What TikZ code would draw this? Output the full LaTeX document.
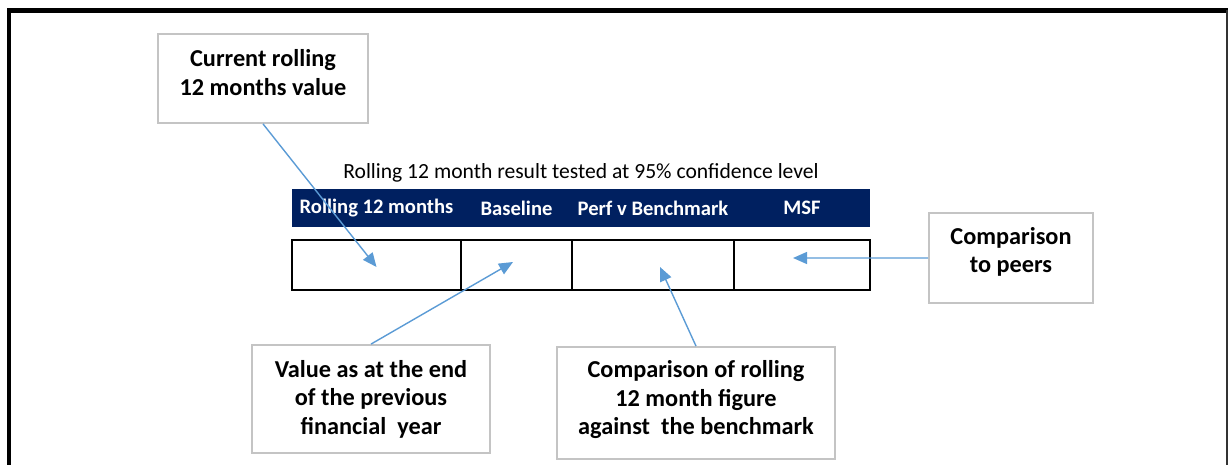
\documentclass[tikz,border=0pt]{standalone}
\usepackage{fontspec}
\setmainfont{Carlito}
\usetikzlibrary{arrows.meta}

\definecolor{navy}{RGB}{0,32,96}
\definecolor{arrowblue}{RGB}{91,155,213}
\definecolor{boxgrey}{RGB}{196,196,196}

\tikzset{
  callout/.style={draw=boxgrey, line width=1.8pt, fill=white, inner sep=0pt},
  calltext/.style={draw=none, align=center, inner sep=0pt,
    font=\fontsize{24.3}{28.5}\selectfont\bfseries},
  head/.style={draw=none, text=white, font=\fontsize{20.6}{24}\selectfont\bfseries},
  caption/.style={draw=none, font=\fontsize{21.6}{25}\selectfont},
  cellline/.style={line width=1.6pt},
  arr/.style={arrowblue, line width=1.4pt, -{Triangle[length=14pt,width=12pt]}}
}

\begin{document}
\begin{tikzpicture}[x=10pt, y=-10pt]
\useasboundingbox (0,0) rectangle (122.9,46.5);

% frame
\draw[line width=4.6pt] (0.9,46.5) -- (0.9,1.05) -- (122.8,1.05);
\draw[line width=1.5pt, black!80] (122.7,1.05) -- (122.7,46.5);

% table
\node[caption] (caption) at (58.1,17.3) {Rolling 12 month result tested at 95\% confidence level};
\fill[navy] (29.2,18.9) rectangle (87,22.7);

\foreach \l/\r/\n/\t in {29.2/46.1/rolling/Rolling 12 months, 46.1/57.2/baseline/Baseline,
                         57.2/73.4/perf/Perf v Benchmark, 73.4/87/msf/MSF} {
  \draw[cellline] (\l,24) rectangle (\r,29);
  \coordinate (\n) at ({(\l+\r)/2},26.5);
  \node[head] (h\n) at ({(\l+\r)/2},20.8) {\t};
}

% callouts
\node[callout, minimum width=210pt, minimum height=89pt,
  label={[calltext, yshift=6pt]center:{Current rolling\\12 months value}}] (current) at (26.3,7.85) {};
\node[callout, minimum width=164pt, minimum height=90pt,
  label={[calltext, yshift=6pt]center:{Comparison\\to peers}}] (peers) at (101.1,25.8) {};
\node[callout, minimum width=238pt, minimum height=108pt,
  label={[calltext]center:{Value as at the end\\of the previous\\financial\ \ year}}] (value) at (37.1,39.9) {};
\node[callout, minimum width=278pt, minimum height=112pt,
  label={[calltext, yshift=3pt]center:{Comparison of rolling\\12 month figure\\against\ \ the benchmark}}] (compare) at (69.6,40.3) {};

\draw[arr] (current.south) -- ([yshift=-2pt]rolling);
\draw[arr] (value.north) -- ([xshift=-3.5pt,yshift=3pt]baseline);
\draw[arr] (compare.north) -- ([xshift=7pt,yshift=-2pt]perf);
\draw[arr] (peers.west) -- ([xshift=-9pt,yshift=7pt]msf);

\end{tikzpicture}
\end{document}
